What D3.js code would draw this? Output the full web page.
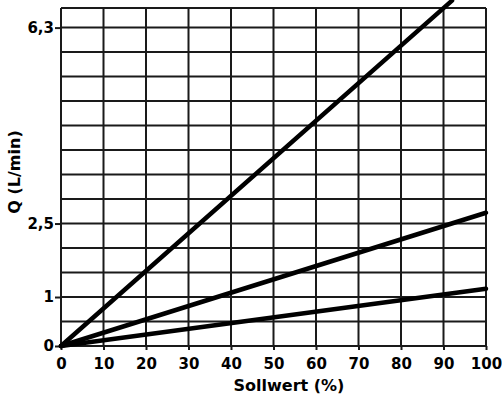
<!DOCTYPE html>
<html>
<head>
<meta charset="utf-8">
<script src="https://cdn.jsdelivr.net/npm/d3@7"></script>
<style>
  body { margin: 0; background: #fff; }
  text { font-family: "DejaVu Sans", sans-serif; font-weight: bold; fill: #000; }
</style>
</head>
<body>
<script>
var width = 502;
var height = 399;

// x: Sollwert (%), y: Q (L/min)
var xTicks = [0, 10, 20, 30, 40, 50, 60, 70, 80, 90, 100];
var yGrid = [0, 0.5, 1, 1.5, 2, 2.5, 3, 3.5, 4, 4.5, 5, 5.5, 6, 6.5];
var yTickValues = [0, 1, 2.5, 6.5];
var yTickLabels = ['0', '1', '2,5', '6,3'];

var steepX = [0, 92];
var steepY = [0, 7.05];
var midX = [0, 100];
var midY = [0, 2.72];
var lowX = [0, 100];
var lowY = [0, 1.17];

var series = [
    {x: lowX, y: lowY},
    {x: midX, y: midY},
    {x: steepX, y: steepY}
];

var x = d3.scaleLinear().domain([0, 100]).range([61, 486]);
var y = d3.scaleLinear().domain([0, 6.9]).range([346, 8]);

var svg = d3.select('body').append('svg')
    .attr('width', width)
    .attr('height', height);

var grid = svg.append('g')
    .attr('stroke', '#1a1a1a')
    .attr('stroke-width', 2);

// horizontal grid lines
grid.selectAll('.hline')
    .data(yGrid.concat([6.9]))
    .enter()
    .append('line')
    .attr('x1', x(0))
    .attr('x2', x(100))
    .attr('y1', function (d) { return y(d); })
    .attr('y2', function (d) { return y(d); });

// vertical grid lines
grid.selectAll('.vline')
    .data(xTicks)
    .enter()
    .append('line')
    .attr('x1', function (d) { return x(d); })
    .attr('x2', function (d) { return x(d); })
    .attr('y1', y(6.9))
    .attr('y2', y(0));

// axes
var xAxis = d3.axisBottom(x).tickValues(xTicks).tickSize(4).tickPadding(8);
var gx = svg.append('g')
    .attr('transform', 'translate(0,' + y(0) + ')')
    .call(xAxis);
gx.select('.domain').remove();
gx.selectAll('line').attr('stroke', '#1a1a1a').attr('stroke-width', 2);
gx.selectAll('text').attr('font-size', 15).attr('font-family', null);

var yAxis = d3.axisLeft(y).tickValues(yTickValues).tickSize(6).tickPadding(1)
    .tickFormat(function (d, i) { return yTickLabels[i]; });
var gy = svg.append('g')
    .attr('transform', 'translate(' + x(0) + ',0)')
    .call(yAxis);
gy.select('.domain').remove();
gy.selectAll('line').attr('stroke', '#1a1a1a').attr('stroke-width', 2);
gy.selectAll('text').attr('font-size', 15).attr('font-family', null);

// data lines
var line = d3.line()
    .x(function (d) { return x(d[0]); })
    .y(function (d) { return y(d[1]); });

svg.selectAll('.series')
    .data(series)
    .enter()
    .append('path')
    .attr('fill', 'none')
    .attr('stroke', '#000')
    .attr('stroke-width', 4.5)
    .attr('stroke-linecap', 'round')
    .attr('d', function (s) {
        return line(s.x.map(function (v, i) { return [v, s.y[i]]; }));
    });

// axis titles
svg.append('text')
    .attr('x', 289)
    .attr('y', 391)
    .attr('text-anchor', 'middle')
    .attr('font-size', 16)
    .text('Sollwert (%)');

svg.append('text')
    .attr('transform', 'translate(20,172) rotate(-90)')
    .attr('text-anchor', 'middle')
    .attr('font-size', 16)
    .text('Q (L/min)');
</script>
</body>
</html>
